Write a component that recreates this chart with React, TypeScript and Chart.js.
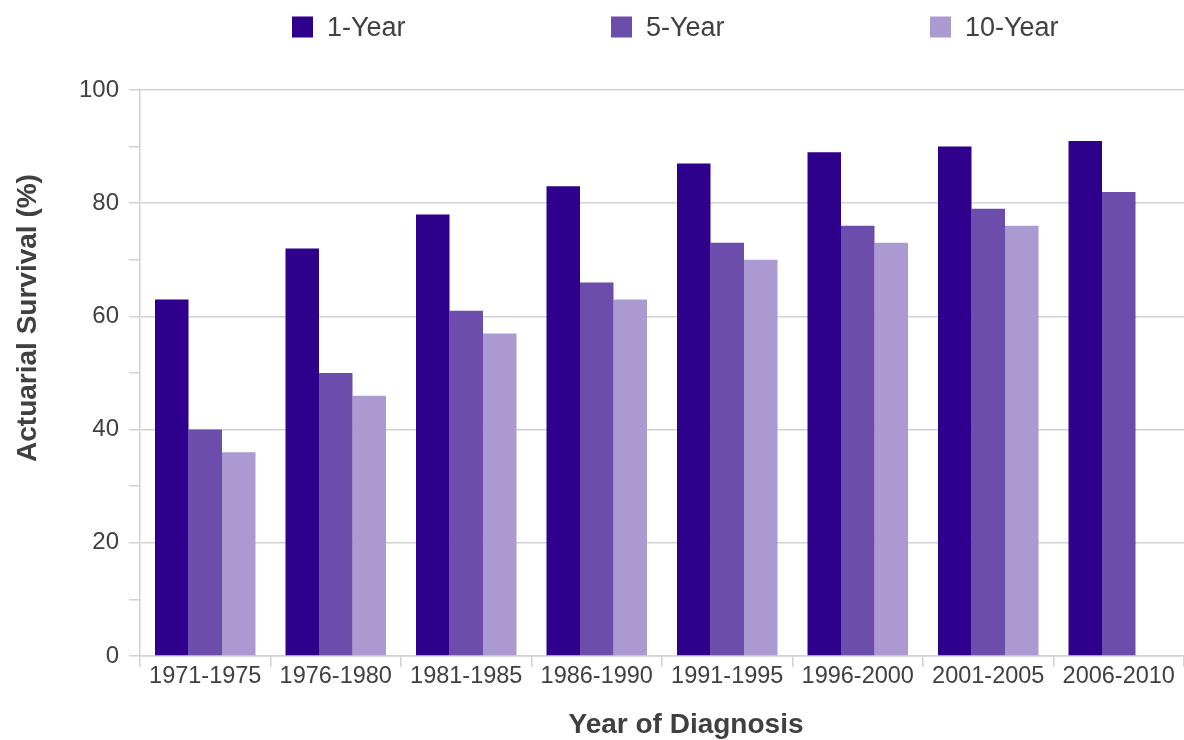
import React, { useEffect, useRef } from "react";
import { Chart, registerables } from "chart.js";

Chart.register(...registerables);

const categories = [
  "1971-1975",
  "1976-1980",
  "1981-1985",
  "1986-1990",
  "1991-1995",
  "1996-2000",
  "2001-2005",
  "2006-2010",
];
const oneYear = [63, 72, 78, 83, 87, 89, 90, 91];
const fiveYear = [40, 50, 61, 66, 73, 76, 79, 82];
const tenYear: (number | null)[] = [36, 46, 57, 63, 70, 73, 76, null];
const seriesLabels = ["1-Year", "5-Year", "10-Year"];
const seriesColors = ["#2e008b", "#6c4dab", "#ab9ad2"];
const yTicks = [0, 20, 40, 60, 80, 100];
const xTitle = "Year of Diagnosis";
const yTitle = "Actuarial Survival (%)";

const FONT = "'Liberation Sans', Arial, Helvetica, sans-serif";
const TEXT = "#404040";
const GRID = "#d2d2d2";

const decorPlugin = {
  id: "decor",
  afterDraw(chart: any) {
    const ctx = chart.ctx;
    const ds = chart.data.datasets;
    const area = chart.chartArea;
    // legend
    const pitch = 319;
    const box = 21;
    const startX = 292;
    const cy = 27;
    ctx.save();
    ctx.font = `27px ${FONT}`;
    ctx.textBaseline = "middle";
    ctx.textAlign = "left";
    ds.forEach((d: any, i: number) => {
      const x = startX + i * pitch;
      ctx.fillStyle = d.backgroundColor;
      ctx.fillRect(x, cy - box / 2, box, box);
      ctx.fillStyle = TEXT;
      ctx.fillText(d.label, x + box + 14, cy + 2);
    });
    // axis titles
    ctx.font = `bold 28px ${FONT}`;
    ctx.textAlign = "center";
    ctx.fillStyle = TEXT;
    ctx.fillText(xTitle, (area.left + area.right) / 2 + 24, 725);
    ctx.translate(27, (area.top + area.bottom) / 2 - 55);
    ctx.rotate(-Math.PI / 2);
    ctx.fillText(yTitle, 0, 1);
    ctx.restore();
  },
};

export default function App() {
  const ref = useRef<HTMLCanvasElement>(null);
  useEffect(() => {
    document.body.style.margin = "0";
    const chart = new Chart(ref.current!, {
      type: "bar",
      data: {
        labels: categories,
        datasets: [oneYear, fiveYear, tenYear].map((d, i) => ({
          label: seriesLabels[i],
          data: d,
          backgroundColor: seriesColors[i],
          borderWidth: 0,
          categoryPercentage: 0.77,
          barPercentage: 1.0,
        })),
      },
      options: {
        animation: false,
        responsive: false,
        maintainAspectRatio: false,
        layout: { padding: { top: 90, left: 0, right: 0, bottom: 0 } },
        plugins: {
          legend: { display: false },
          tooltip: { enabled: false },
        },
        scales: {
          x: {
            offset: true,
            grid: {
              display: true,
              drawOnChartArea: false,
              offset: true,
              color: GRID,
              lineWidth: 1.5,
              tickLength: 11,
            },
            border: { color: GRID, width: 1.5 },
            ticks: {
              color: TEXT,
              font: { family: FONT, size: 23.5 },
              padding: -5,
              maxRotation: 0,
              autoSkip: false,
            },
            afterFit(scale: any) {
              scale.height = 84;
            },
          },
          y: {
            min: 0,
            max: 100,
            ticks: {
              stepSize: 10,
              color: TEXT,
              font: { family: FONT, size: 24 },
              padding: 10,
              autoSkip: false,
              callback: (v: any) => (yTicks.includes(Number(v)) ? String(v) : ""),
            },
            grid: {
              color: (c: any) =>
                c.tick && yTicks.includes(c.tick.value) ? GRID : "rgba(0,0,0,0)",
              tickColor: GRID,
              lineWidth: 1.5,
              tickLength: 11,
            },
            border: { color: GRID, width: 1.5 },
            afterFit(scale: any) {
              scale.width = 140;
            },
          },
        },
      },
      plugins: [decorPlugin],
    });
    return () => chart.destroy();
  }, []);
  return (
    <div style={{ position: "relative", width: 1184, height: 740 }}>
      <canvas ref={ref} width={1184} height={740} style={{ width: 1184, height: 740 }} />
    </div>
  );
}
